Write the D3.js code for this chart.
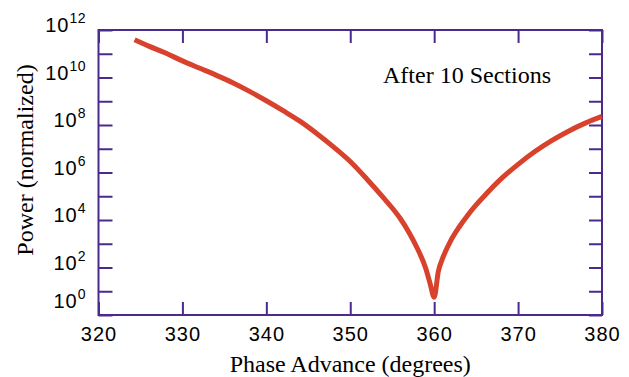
<!DOCTYPE html>
<html>
<head>
  <meta charset="UTF-8">
  <title>Power vs Phase Advance</title>
  <script src="https://d3js.org/d3.v7.min.js"></script>
  <style>
    body {
      margin: 0;
      background: #fff;
    }
    .tick-label {
      font-family: "Liberation Sans", Arial, sans-serif;
      font-size: 20px;
      letter-spacing: 1px;
      fill: #000;
    }
    .title {
      font-family: "Liberation Serif", "Times New Roman", serif;
      font-size: 24px;
      fill: #000;
    }
  </style>
</head>
<body>
  <div id="chart"></div>
  <script>
    // phase advance (degrees) and normalized power
    const phase = [324.3, 326, 328, 330, 332, 334, 336, 338, 340, 342, 344, 346, 348, 350,
      352, 354, 355, 356, 357, 358, 359, 359.5, 360, 360.5, 361, 362, 363, 364, 365, 366,
      368, 370, 372, 374, 376, 378, 380];
    const power = [3.9e11, 2.1e11, 1.07e11, 5.0e10, 2.5e10, 1.26e10, 6.0e9, 2.6e9, 1.05e9,
      4.0e8, 1.45e8, 4.4e7, 1.2e7, 2.9e6, 5.2e5, 8.3e4, 3.2e4, 1.1e4, 3.0e3, 630, 91, 22,
      5.6, 70, 240, 1.4e3, 5.2e3, 1.6e4, 4.3e4, 1.05e5, 5.5e5, 2.2e6, 7.6e6, 2.2e7,
      5.5e7, 1.2e8, 2.3e8];

    const xTicks = [320, 330, 340, 350, 360, 370, 380];
    const yExponents = [0, 1, 2, 3, 4, 5, 6, 7, 8, 9, 10, 11, 12];
    const yLabelExponents = [0, 2, 4, 6, 8, 10, 12];

    const W = 629, H = 377;
    const plotL = 98.5, plotR = 602, plotT = 30, plotB = 315;
    const axisColor = "#4a2a8e";
    const lineColor = "#d8412b";

    const x = d3.scaleLinear().domain([320, 380]).range([plotL, plotR]);
    const y = d3.scaleLog().domain([1, 1e12]).range([plotB, plotT]);
    const yTickVals = yExponents.map(e => Math.pow(10, e));

    const svg = d3.select("#chart")
      .append("svg")
      .attr("width", W)
      .attr("height", H);

    const styleAxis = g => {
      g.select(".domain").remove();
      g.selectAll(".tick line")
        .attr("stroke", axisColor)
        .attr("stroke-width", 2);
    };

    // bottom axis with labels
    const xAxis = svg.append("g")
      .attr("transform", `translate(0,${plotB})`)
      .call(d3.axisBottom(x).tickValues(xTicks).tickSizeInner(-13).tickSizeOuter(0)
        .tickPadding(12).tickFormat(d3.format("d")))
      .call(styleAxis);
    xAxis.selectAll(".tick text")
      .attr("class", "tick-label")
      .attr("fill", "#000");

    // top axis, ticks only
    svg.append("g")
      .attr("transform", `translate(0,${plotT})`)
      .call(d3.axisTop(x).tickValues(xTicks).tickSizeInner(-13).tickSizeOuter(0).tickFormat(""))
      .call(styleAxis);

    // left and right axes, ticks only
    svg.append("g")
      .attr("transform", `translate(${plotL},0)`)
      .call(d3.axisLeft(y).tickValues(yTickVals).tickSizeInner(-14).tickSizeOuter(0).tickFormat(""))
      .call(styleAxis);
    svg.append("g")
      .attr("transform", `translate(${plotR},0)`)
      .call(d3.axisRight(y).tickValues(yTickVals).tickSizeInner(-13).tickSizeOuter(0).tickFormat(""))
      .call(styleAxis);

    // frame
    svg.append("rect")
      .attr("x", plotL)
      .attr("y", plotT)
      .attr("width", plotR - plotL)
      .attr("height", plotB - plotT)
      .attr("fill", "none")
      .attr("stroke", axisColor)
      .attr("stroke-width", 2);

    // y tick labels: 10 with superscript exponent
    const yl = svg.append("g").selectAll("text")
      .data(yLabelExponents)
      .enter()
      .append("text")
      .attr("class", "tick-label")
      .attr("text-anchor", "end")
      .attr("x", 86)
      .attr("y", d => y(Math.pow(10, d)) + (d === 0 ? -7 : 2));
    yl.append("tspan").text("10");
    yl.append("tspan")
      .attr("dy", -9)
      .attr("font-size", "14px")
      .attr("letter-spacing", "0.5px")
      .text(d => d);

    // curve
    const pts = phase.map((p, i) => [p, power[i]]);
    svg.append("path")
      .datum(pts)
      .attr("fill", "none")
      .attr("stroke", lineColor)
      .attr("stroke-width", 5)
      .attr("stroke-linejoin", "round")
      .attr("d", d3.line().curve(d3.curveMonotoneX).x(d => x(d[0])).y(d => y(d[1])));

    // annotation and axis titles
    svg.append("text")
      .attr("class", "title")
      .attr("x", 383)
      .attr("y", 83)
      .text("After 10 Sections");

    svg.append("text")
      .attr("class", "title")
      .attr("text-anchor", "middle")
      .attr("x", (plotL + plotR) / 2)
      .attr("y", 372)
      .text("Phase Advance (degrees)");

    svg.append("text")
      .attr("class", "title")
      .attr("text-anchor", "middle")
      .attr("transform", "translate(33,160) rotate(-90)")
      .text("Power (normalized)");
  </script>
</body>
</html>
